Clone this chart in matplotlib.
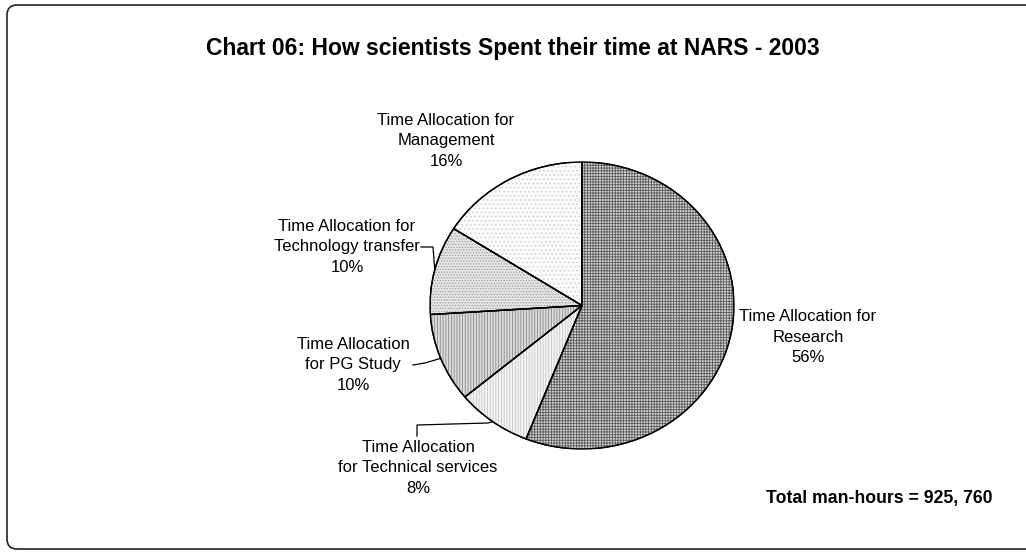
import numpy as np
import matplotlib.pyplot as plt
from matplotlib.patches import FancyBboxPatch, Wedge
from matplotlib.transforms import IdentityTransform

plt.rcParams['font.family'] = ['Liberation Sans', 'DejaVu Sans']
plt.rcParams['hatch.linewidth'] = 0.6

# Data
labels = ['Time Allocation for\nResearch',
          'Time Allocation\nfor Technical services',
          'Time Allocation\nfor PG Study',
          'Time Allocation for\nTechnology transfer',
          'Time Allocation for\nManagement']
shares = [56, 8, 10, 10, 16]
colors = ['#d4d4d4', '#f4f4f4', '#dcdcdc', '#e6e6e6', '#fbfbfb']
hatches = ['++++++', '||||||', '||||||', '......', '....']
hatch_colors = ['#5a5a5a', '#c8c8c8', '#8a8a8a', '#9a9a9a', '#cfcfcf']

W, H = 1026, 560
fig = plt.figure(figsize=(W / 100, H / 100), dpi=100)

# Rounded frame round the chart area (kept behind the pie)
frame = FancyBboxPatch((7, H - 549), 1060, 544,
                       boxstyle='round,pad=0,rounding_size=10',
                       transform=IdentityTransform(),
                       facecolor='white', edgecolor='#222222', linewidth=1.2,
                       zorder=-5)
fig.add_artist(frame)

# Pie axes (the pie is drawn a little wider than tall, as in the original)
ax = fig.add_axes([430 / W, (H - 449) / H, 304 / W, 287 / H])
ax.patch.set_visible(False)
wedges, _ = ax.pie(shares, colors=colors, startangle=90, counterclock=False,
                   wedgeprops=dict(edgecolor='black', linewidth=1.0))
# texture on top of each slice, then the outline again
for w, h, hc in zip(wedges, hatches, hatch_colors):
    ax.add_patch(Wedge(w.center, w.r, w.theta1, w.theta2, facecolor='none',
                       edgecolor=hc, hatch=h, linewidth=0, zorder=w.get_zorder() + 0.1))
    ax.add_patch(Wedge(w.center, w.r, w.theta1, w.theta2, facecolor='none',
                       edgecolor='black', linewidth=1.0, zorder=w.get_zorder() + 0.2))
ax.set_aspect('auto')
ax.set_xlim(-1, 1)
ax.set_ylim(-1, 1)
ax.axis('off')


def px(x, y):
    # pixel (from top-left) -> figure fraction
    return x / W, 1 - y / H


def edge_point(w):
    # point on the pie rim at the middle of a wedge, in figure pixels (top-left origin)
    ang = np.deg2rad((w.theta1 + w.theta2) / 2)
    xd, yd = ax.transData.transform((np.cos(ang), np.sin(ang)))
    return xd, H - yd


txt = dict(fontsize=12, ha='center', va='center', linespacing=1.42)

# label positions (pixel centres of each text block)
label_pos = [(808, 337), (418, 468), (353, 365), (347, 247), (446, 141)]
for lab, s, (x, y) in zip(labels, shares, label_pos):
    fig.text(*px(x, y), f'{lab}\n{s}%', **txt)

# leader lines
line_kw = dict(color='black', linewidth=0.9)
ex, ey = edge_point(wedges[3])
pts = [(421, 247), (433, 247), (ex, ey)]
fig.add_artist(plt.Line2D(*zip(*[px(*p) for p in pts]), **line_kw))

ex, ey = edge_point(wedges[2])
pts = [(413, 365), (425, 363), (ex, ey)]
fig.add_artist(plt.Line2D(*zip(*[px(*p) for p in pts]), **line_kw))

ex, ey = edge_point(wedges[1])
pts = [(417, 436), (417, 425), (488, 423), (ex, ey)]
fig.add_artist(plt.Line2D(*zip(*[px(*p) for p in pts]), **line_kw))

fig.text(*px(513, 48), 'Chart 06: How scientists Spent their time at NARS - 2003',
         fontsize=16.5, fontweight='bold', ha='center', va='center')
fig.text(*px(879, 499), 'Total man-hours = 925, 760',
         fontsize=12.7, fontweight='bold', ha='center', va='center')

fig.savefig('out.png', dpi=100)
